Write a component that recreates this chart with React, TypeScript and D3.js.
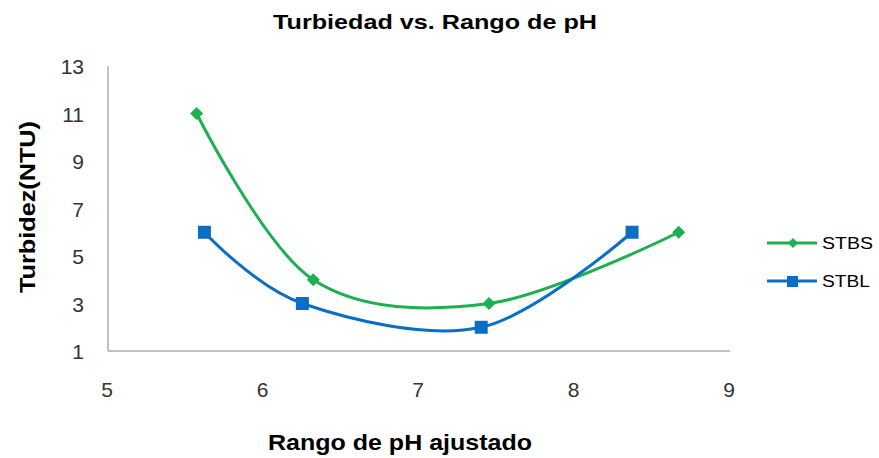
import React from "react";
import * as d3 from "d3";

// pH values and turbidity (NTU) for each series
const stbsPh = [5.57, 6.32, 7.45, 8.67];
const stbsNtu = [11, 4, 3, 6];
const stblPh = [5.62, 6.25, 7.4, 8.37];
const stblNtu = [6, 3, 2, 6];

const xTicks = [5, 6, 7, 8, 9];
const yTicks = [1, 3, 5, 7, 9, 11, 13];

const W = 879;
const H = 458;
const plot = { left: 108, right: 730, top: 66, bottom: 351 };

const GREEN = "#1DAF50";
const BLUE = "#0A6FC2";
const FONT = "'Liberation Sans', Arial, sans-serif";

export default function App() {
  const x = d3.scaleLinear().domain([5, 9]).range([plot.left, plot.right]);
  const y = d3.scaleLinear().domain([1, 13]).range([plot.bottom, plot.top]);

  const line = d3
    .line<[number, number]>()
    .x((d) => x(d[0]))
    .y((d) => y(d[1]))
    .curve(d3.curveCardinal.tension(0));

  const stbs: [number, number][] = stbsPh.map((p, i) => [p, stbsNtu[i]]);
  const stbl: [number, number][] = stblPh.map((p, i) => [p, stblNtu[i]]);

  const diamond = (cx: number, cy: number, r = 6.5) =>
    `M${cx},${cy - r}L${cx + r},${cy}L${cx},${cy + r}L${cx - r},${cy}Z`;

  return (
    <svg
      width={W}
      height={H}
      style={{ position: "absolute", left: 0, top: 0, background: "#fff" }}
      fontFamily={FONT}
    >
      <text
        x={273}
        y={29}
        fontSize={21}
        fontWeight="bold"
        fill="#000"
        textLength={324}
        lengthAdjust="spacingAndGlyphs"
      >
        Turbiedad vs. Rango de pH
      </text>

      {/* axes */}
      <line x1={plot.left} x2={plot.left} y1={plot.top} y2={plot.bottom} stroke="#868686" strokeWidth={1} />
      <line x1={plot.left} x2={plot.right} y1={plot.bottom} y2={plot.bottom} stroke="#868686" strokeWidth={1} />

      {yTicks.map((t) => (
        <text key={t} x={84} y={y(t) + 8} textAnchor="end" fontSize={21} fill="#333">
          {t}
        </text>
      ))}
      {xTicks.map((t) => (
        <text key={t} x={x(t) - 1} y={397} textAnchor="middle" fontSize={21} fill="#333">
          {t}
        </text>
      ))}

      <text
        transform={`translate(35,293) rotate(-90)`}
        fontSize={22}
        fontWeight="bold"
        fill="#000"
        textLength={172}
        lengthAdjust="spacingAndGlyphs"
      >
        Turbidez(NTU)
      </text>
      <text
        x={268}
        y={450}
        fontSize={22}
        fontWeight="bold"
        fill="#000"
        textLength={264}
        lengthAdjust="spacingAndGlyphs"
      >
        Rango de pH ajustado
      </text>

      {/* series */}
      <path d={line(stbs) || ""} fill="none" stroke={GREEN} strokeWidth={3} />
      <path d={line(stbl) || ""} fill="none" stroke={BLUE} strokeWidth={3} />
      {stbs.map((d, i) => (
        <path key={i} d={diamond(x(d[0]), y(d[1]))} fill={GREEN} />
      ))}
      {stbl.map((d, i) => (
        <rect key={i} x={x(d[0]) - 6.5} y={y(d[1]) - 6.5} width={13} height={13} fill={BLUE} />
      ))}

      {/* legend */}
      <line x1={767} x2={817} y1={243} y2={243} stroke={GREEN} strokeWidth={3} />
      <path d={diamond(793, 243, 5)} fill={GREEN} />
      <text x={822} y={248.5} fontSize={16} fill="#000" textLength={51} lengthAdjust="spacingAndGlyphs">
        STBS
      </text>
      <line x1={767} x2={817} y1={281} y2={281} stroke={BLUE} strokeWidth={3} />
      <rect x={787} y={276} width={11} height={11} fill={BLUE} />
      <text x={822} y={287} fontSize={16} fill="#000" textLength={48} lengthAdjust="spacingAndGlyphs">
        STBL
      </text>
    </svg>
  );
}
